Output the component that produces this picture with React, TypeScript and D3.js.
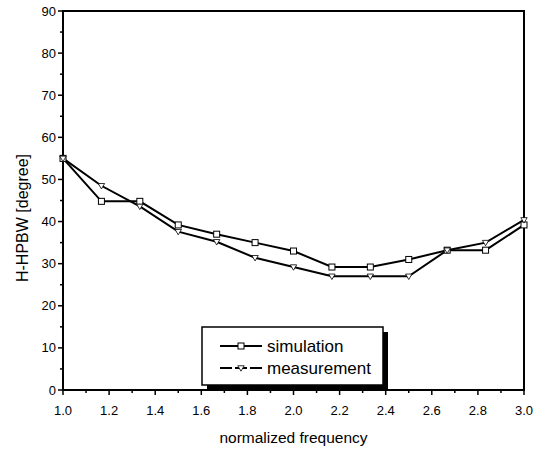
import React from "react";
import * as d3 from "d3";

const freqs = [1.0, 1.1667, 1.3333, 1.5, 1.6667, 1.8333, 2.0, 2.1667, 2.3333, 2.5, 2.6667, 2.8333, 3.0];
const simulation = [55, 44.8, 44.8, 39.2, 37, 35, 33, 29.2, 29.2, 31, 33.2, 33.2, 39.2];
const measurement = [55, 48.5, 43.6, 37.6, 35.2, 31.4, 29.2, 27, 27, 27, 33.2, 35, 40.4];
const xTicks = [1.0, 1.2, 1.4, 1.6, 1.8, 2.0, 2.2, 2.4, 2.6, 2.8, 3.0];
const yTicks = [0, 10, 20, 30, 40, 50, 60, 70, 80, 90];
const seriesNames = ["simulation", "measurement"];

const W = 546;
const H = 452;
const left = 63;
const right = 524;
const top = 11;
const bottom = 390;
const font = "Liberation Sans, Arial, sans-serif";

export default function App() {
  const x = d3.scaleLinear().domain([1, 3]).range([left, right]);
  const y = d3.scaleLinear().domain([0, 90]).range([bottom, top]);
  const line = d3
    .line<number>()
    .x((_, i) => x(freqs[i]))
    .y((d) => y(d));
  const xMinor = d3.range(1.1, 3.0, 0.2);
  const yMinor = d3.range(5, 90, 10);
  const tri = (cx: number, cy: number, s: number) =>
    `M${cx - s},${cy - s * 0.7}L${cx + s},${cy - s * 0.7}L${cx},${cy + s}Z`;

  const legX = 202;
  const legY = 327;
  const legW = 181;
  const legH = 58;

  return (
    <svg width={W} height={H} style={{ position: "absolute", left: 0, top: 0, background: "#fff" }}>
      <rect x={0} y={0} width={W} height={H} fill="#fff" />
      {/* frame */}
      <rect x={left} y={top} width={right - left} height={bottom - top} fill="none" stroke="#000" strokeWidth={2} />
      {/* y ticks */}
      {yTicks.map((t) => (
        <g key={"y" + t}>
          <line x1={left - 5} x2={left} y1={y(t)} y2={y(t)} stroke="#000" strokeWidth={1.5} />
          <text x={left - 7} y={y(t) + 4.5} textAnchor="end" fontFamily={font} fontSize={13} fill="#000">
            {t}
          </text>
        </g>
      ))}
      {yMinor.map((t) => (
        <line key={"ym" + t} x1={left - 3} x2={left} y1={y(t)} y2={y(t)} stroke="#000" strokeWidth={1.5} />
      ))}
      {/* x ticks */}
      {xTicks.map((t) => (
        <g key={"x" + t}>
          <line x1={x(t)} x2={x(t)} y1={bottom} y2={bottom + 5} stroke="#000" strokeWidth={1.5} />
          <text x={x(t)} y={bottom + 25} textAnchor="middle" fontFamily={font} fontSize={13} fill="#000">
            {t.toFixed(1)}
          </text>
        </g>
      ))}
      {xMinor.map((t) => (
        <line key={"xm" + t} x1={x(t)} x2={x(t)} y1={bottom} y2={bottom + 3} stroke="#000" strokeWidth={1.5} />
      ))}
      {/* axis titles */}
      <text x={(left + right) / 2} y={443} textAnchor="middle" fontFamily={font} fontSize={15.5} fill="#000">
        normalized frequency
      </text>
      <text
        transform={`translate(28,218) rotate(-90)`}
        textAnchor="middle"
        fontFamily={font}
        fontSize={16}
        fill="#000"
      >
        H-HPBW [degree]
      </text>
      {/* lines */}
      <path d={line(simulation) || ""} fill="none" stroke="#000" strokeWidth={2} />
      <path d={line(measurement) || ""} fill="none" stroke="#000" strokeWidth={2} />
      {simulation.map((v, i) => (
        <rect key={"s" + i} x={x(freqs[i]) - 3} y={y(v) - 3} width={6} height={6} fill="#fff" stroke="#000" strokeWidth={1} />
      ))}
      {measurement.map((v, i) => (
        <path key={"m" + i} d={tri(x(freqs[i]), y(v), 3.2)} fill="#fff" stroke="#000" strokeWidth={0.8} />
      ))}
      {/* legend */}
      <rect x={legX + 5} y={legY + 5} width={legW} height={legH} fill="#000" />
      <rect x={legX} y={legY} width={legW} height={legH} fill="#fff" stroke="#000" strokeWidth={1.5} />
      <line x1={220} x2={262} y1={346} y2={346} stroke="#000" strokeWidth={2} />
      <rect x={238} y={343} width={6} height={6} fill="#fff" stroke="#000" strokeWidth={1} />
      <text x={267} y={352} fontFamily={font} fontSize={17} fill="#000">
        {seriesNames[0]}
      </text>
      <line x1={220} x2={262} y1={368} y2={368} stroke="#000" strokeWidth={2} strokeDasharray="12,3" />
      <path d={tri(241, 368, 3.2)} fill="#fff" stroke="#000" strokeWidth={0.8} />
      <text x={267} y={374} fontFamily={font} fontSize={17} fill="#000">
        {seriesNames[1]}
      </text>
    </svg>
  );
}
